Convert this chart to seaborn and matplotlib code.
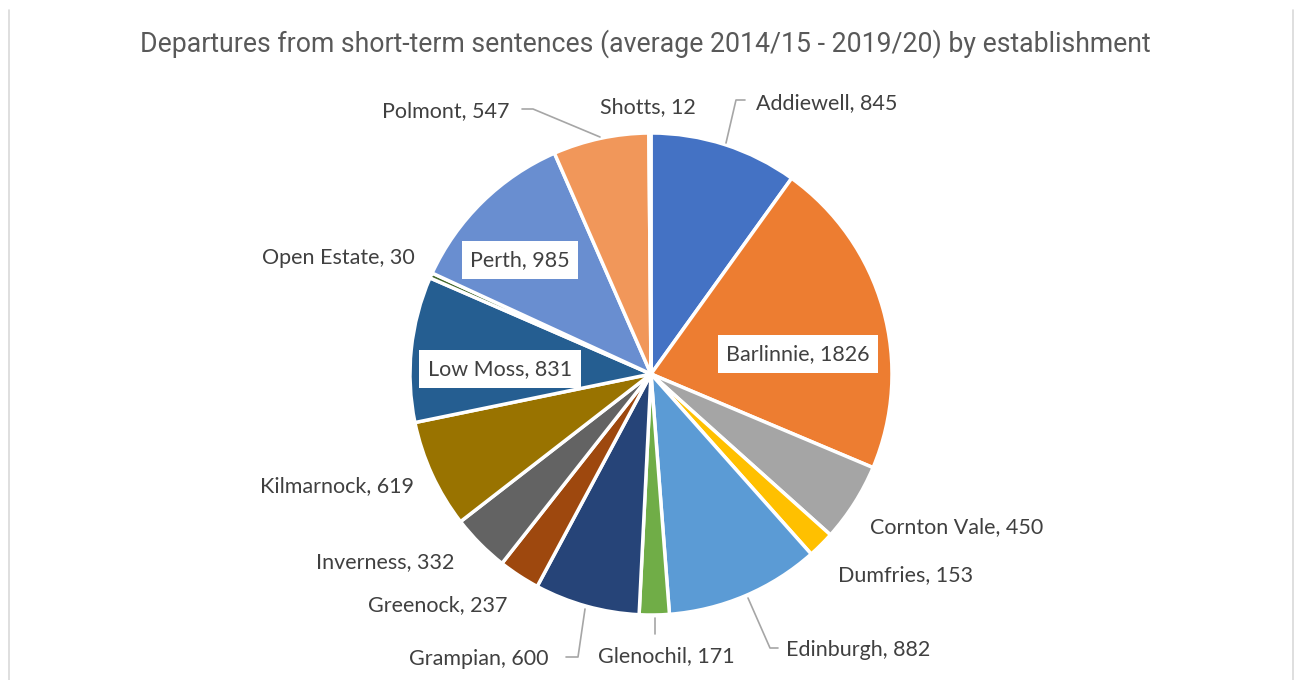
import matplotlib
matplotlib.use("Agg")
import matplotlib.pyplot as plt
import seaborn as sns
from matplotlib.lines import Line2D

sns.set_theme(style="white")
plt.rcParams['font.family'] = ['Lato', 'DejaVu Sans']

establishments = ["Addiewell", "Barlinnie", "Cornton Vale", "Dumfries", "Edinburgh",
                  "Glenochil", "Grampian", "Greenock", "Inverness", "Kilmarnock",
                  "Low Moss", "Open Estate", "Perth", "Polmont", "Shotts"]
departures = [845, 1826, 450, 153, 882, 171, 600, 237, 332, 619, 831, 30, 985, 547, 12]
colors = ["#4472C4", "#ED7D31", "#A5A5A5", "#FFC000", "#5B9BD5", "#70AD47",
          "#264478", "#9E480E", "#636363", "#997300", "#255E91", "#43682B",
          "#698ED0", "#F1975A", "#B7B7B7"]
title = "Departures from short-term sentences (average 2014/15 - 2019/20) by establishment"

W, H = 1298, 680
fig = plt.figure(figsize=(W / 100, H / 100), dpi=100)
ax = fig.add_axes([0, 0, 1, 1])

cx, cy, r = 651, H - 374, 241
ax.pie(departures, colors=colors, startangle=90, counterclock=False,
       center=(cx, cy), radius=r,
       wedgeprops=dict(edgecolor="white", linewidth=2.5))
ax.set_xlim(0, W)
ax.set_ylim(0, H)
ax.set_aspect("auto")
ax.set_axis_off()

# label layout (pixel positions, y from top)
label_pos = {
    "Addiewell": (827, 103, None),
    "Barlinnie": (798, 354, "box"),
    "Cornton Vale": (957, 527, None),
    "Dumfries": (906, 575, None),
    "Edinburgh": (858, 650, None),
    "Glenochil": (666, 656, None),
    "Grampian": (479, 659, None),
    "Greenock": (438, 605, None),
    "Inverness": (385, 562, None),
    "Kilmarnock": (337, 486, None),
    "Low Moss": (500, 369, "box"),
    "Open Estate": (338, 258, None),
    "Perth": (520, 260, "box"),
    "Polmont": (446, 111, None),
    "Shotts": (648, 107, None),
}
for name, val in zip(establishments, departures):
    x, y, style = label_pos[name]
    kw = {}
    if style == "box":
        kw["bbox"] = dict(boxstyle="square,pad=0.4", facecolor="white", edgecolor="none")
    ax.text(x, H - y, f"{name}, {val}", ha="center", va="center",
            fontsize=15.5, color="#404040", **kw)

# leader lines
leaders = [
    [(726, 143), (736, 100), (745, 100)],
    [(600, 137), (533, 109), (522, 109)],
    [(585, 609), (578, 657), (566, 657)],
    [(655, 618), (655, 634)],
    [(748, 598), (770, 648), (778, 648)],
]
for pts in leaders:
    ax.plot([p[0] for p in pts], [H - p[1] for p in pts], color="#A6A6A6", lw=1.2)

fig.text(645 / W, 1 - 44 / H, title, ha="center", va="center", fontsize=19.2,
         color="#595959", family=["Roboto", "DejaVu Sans"])

# chart frame sides
for xx in (8.5, 1292.5):
    fig.add_artist(Line2D([xx / W, xx / W], [0, 1 - 10 / H], color="#D9D9D9", lw=1.2,
                          transform=fig.transFigure))

fig.savefig("out.png", dpi=100, facecolor="white")
